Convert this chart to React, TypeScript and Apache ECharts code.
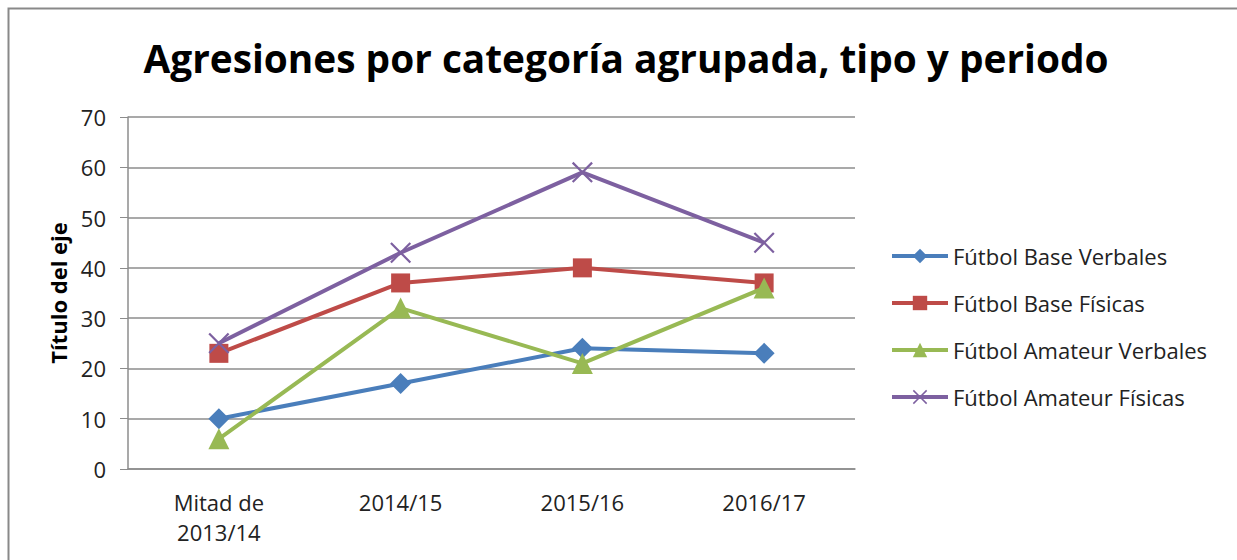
import React, { useEffect, useRef } from "react";
import * as echarts from "echarts";

const categories = ["Mitad de\n2013/14", "2014/15", "2015/16", "2016/17"];
const baseVerbales = [10, 17, 24, 23];
const baseFisicas = [23, 37, 40, 37];
const amateurVerbales = [6, 32, 21, 36];
const amateurFisicas = [25, 43, 59, 45];
const seriesNames = [
  "Fútbol Base Verbales",
  "Fútbol Base Físicas",
  "Fútbol Amateur Verbales",
  "Fútbol Amateur Físicas",
];
const colors = ["#4A7EBB", "#BE4B48", "#98B954", "#7D60A0"];

const FONT = "'Open Sans', sans-serif";
const X_PATH =
  "path://M1.5,0 L10,8.5 L18.5,0 L20,1.5 L11.5,10 L20,18.5 L18.5,20 L10,11.5 L1.5,20 L0,18.5 L8.5,10 L0,1.5 Z";

export default function App() {
  const ref = useRef<HTMLDivElement>(null);
  useEffect(() => {
    document.body.style.margin = "0";
    if (!ref.current) return;
    const chart = echarts.init(ref.current, null, { renderer: "svg" });
    const data = [baseVerbales, baseFisicas, amateurVerbales, amateurFisicas];
    const symbols = ["diamond", "rect", "triangle", X_PATH];
    const sizes = [21, 19, 21, 21];
    chart.setOption({
      animation: false,
      backgroundColor: "#fff",
      title: {
        text: "Agresiones por categoría agrupada, tipo y periodo",
        left: 621,
        textAlign: "center",
        top: 33,
        textStyle: { fontFamily: FONT, fontWeight: "bold", fontSize: 38.8, color: "#000" },
      },
      graphic: [
        {
          type: "rect",
          shape: { x: 8.5, y: 8.5, width: 1400, height: 800 },
          style: { fill: "none", stroke: "#898989", lineWidth: 2 },
          silent: true,
        },
      ],
      grid: { left: 128, top: 117, width: 727, height: 352, containLabel: false },
      legend: {
        orient: "vertical",
        left: 885,
        top: 240,
        itemWidth: 56,
        itemHeight: 18,
        itemGap: 25,
        lineStyle: { width: 4 },
        textStyle: { fontFamily: FONT, fontSize: 22, color: "#222" },
        data: seriesNames,
      },
      xAxis: {
        type: "category",
        data: categories,
        boundaryGap: true,
        axisLine: { lineStyle: { color: "#8c8c8c", width: 1.5 } },
        axisTick: { show: false },
        axisLabel: {
          fontFamily: FONT,
          fontSize: 22,
          lineHeight: 30,
          color: "#222",
          margin: 18,
        },
      },
      yAxis: {
        type: "value",
        min: 0,
        max: 70,
        interval: 10,
        name: "Título del eje",
        nameLocation: "middle",
        nameRotate: 90,
        nameGap: 59,
        nameTextStyle: { fontFamily: FONT, fontSize: 22, fontWeight: "bold", color: "#000" },
        axisLine: { show: true, lineStyle: { color: "#8c8c8c", width: 1.5 } },
        axisTick: { show: true, inside: false, length: 8, lineStyle: { color: "#8c8c8c" } },
        axisLabel: { fontFamily: FONT, fontSize: 22, color: "#222", margin: 22 },
        splitLine: { lineStyle: { color: "#8c8c8c", width: 1.5 } },
      },
      series: seriesNames.map((name, i) => ({
        name,
        type: "line",
        data: data[i],
        symbol: symbols[i],
        symbolSize: sizes[i],
        showSymbol: true,
        lineStyle: { color: colors[i], width: 4 },
        itemStyle: { color: colors[i], borderWidth: 0 },
        z: 2 + i,
      })),
    });
    return () => chart.dispose();
  }, []);
  return <div ref={ref} style={{ width: 1237, height: 560 }} />;
}
